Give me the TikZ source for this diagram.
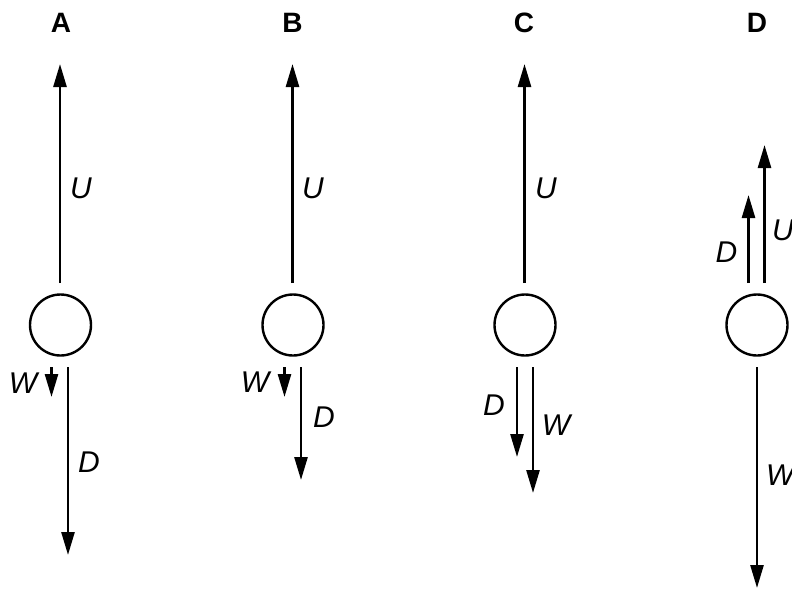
\documentclass[tikz,border=0pt]{standalone}
\usepackage{fontspec}
\setmainfont{Liberation Sans}
\usetikzlibrary{arrows.meta}
\begin{document}
\begin{tikzpicture}[x=1pt,y=-1pt,
  force/.style={line width=2.6pt,-{Triangle[length=23pt,width=13pt]}},
  body/.style={draw,line width=2.4pt,circle,minimum size=61pt,inner sep=0pt},
  lab/.style={inner sep=0pt,font=\fontsize{30}{30}\selectfont\itshape},
  ttl/.style={inner sep=0pt,font=\fontsize{28}{28}\selectfont\bfseries}]
\useasboundingbox (0,0) rectangle (792,590);

% ---------- A ----------
\node[ttl] (tA) at (61,23) {A};
\node[body] (cA) at (60.5,325) {};
\coordinate (uA0) at (60,283);  \coordinate (uA1) at (60,64);
\coordinate (wA0) at (51.5,367); \coordinate (wA1) at (51.5,397);
\coordinate (dA0) at (68,367);  \coordinate (dA1) at (68,555);
\draw[force] (uA0) -- (uA1);
\draw[force] (wA0) -- (wA1);
\draw[force] (dA0) -- (dA1);
\node[lab] (luA) at (81,188) {U};
\node[lab] (lwA) at (23,383) {W};
\node[lab] (ldA) at (89,462) {D};

% ---------- B ----------
\node[ttl] (tB) at (292.5,23) {B};
\node[body] (cB) at (293,325) {};
\coordinate (uB0) at (292.5,283); \coordinate (uB1) at (292.5,64);
\coordinate (wB0) at (284.5,367); \coordinate (wB1) at (284.5,397);
\coordinate (dB0) at (301,367);   \coordinate (dB1) at (301,480);
\draw[force] (uB0) -- (uB1);
\draw[force] (wB0) -- (wB1);
\draw[force] (dB0) -- (dB1);
\node[lab] (luB) at (313,188) {U};
\node[lab] (lwB) at (255,382) {W};
\node[lab] (ldB) at (324,417) {D};

% ---------- C ----------
\node[ttl] (tC) at (524,23) {C};
\node[body] (cC) at (525,325) {};
\coordinate (uC0) at (524.5,283); \coordinate (uC1) at (524.5,64);
\coordinate (dC0) at (517,367);   \coordinate (dC1) at (517,457);
\coordinate (wC0) at (533,367);   \coordinate (wC1) at (533,493);
\draw[force] (uC0) -- (uC1);
\draw[force] (dC0) -- (dC1);
\draw[force] (wC0) -- (wC1);
\node[lab] (luC) at (546,188) {U};
\node[lab] (ldC) at (494,405) {D};
\node[lab] (lwC) at (556,425) {W};

% ---------- D ----------
\node[ttl] (tD) at (757,23) {D};
\node[body] (cD) at (757,325) {};
\coordinate (uD0) at (764.5,283); \coordinate (uD1) at (764.5,145);
\coordinate (dD0) at (748.5,283); \coordinate (dD1) at (748.5,195);
\coordinate (wD0) at (757,367);   \coordinate (wD1) at (757,588);
\draw[force] (uD0) -- (uD1);
\draw[force] (dD0) -- (dD1);
\draw[force] (wD0) -- (wD1);
\node[lab,anchor=west] (luD) at (772,230) {U};
\node[lab] (ldD) at (726.5,252) {D};
\node[lab,anchor=west] (lwD) at (766,475) {W};
\end{tikzpicture}
\end{document}
